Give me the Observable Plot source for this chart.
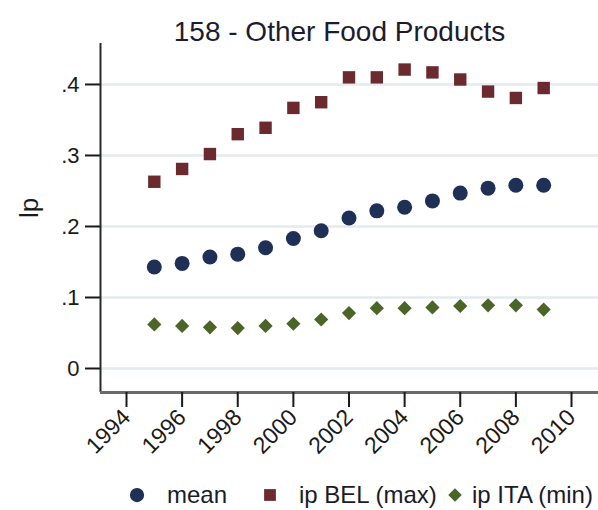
<!DOCTYPE html>
<html><head><meta charset="utf-8">
<script src="https://cdn.jsdelivr.net/npm/d3@7"></script>
<script src="https://cdn.jsdelivr.net/npm/@observablehq/plot@0.6"></script>
<style>
body{margin:0;background:#fff;font-family:"Liberation Sans",Arial,sans-serif;}
#chart{position:relative;width:598px;height:510px;overflow:hidden;background:#fff;}
#chart svg.plot{position:absolute;left:0;top:0;}
.item{position:absolute;top:475px;height:40px;line-height:40px;font-size:24px;color:#1a1a2a;white-space:nowrap;}
.sw{position:absolute;}
</style></head><body><div id="chart"></div>
<script>
const title = "158 - Other Food Products";
const yLabel = "lp";
const years = [1995,1996,1997,1998,1999,2000,2001,2002,2003,2004,2005,2006,2007,2008,2009];
const meanValues = [0.143,0.148,0.157,0.161,0.170,0.183,0.194,0.212,0.222,0.227,0.236,0.247,0.254,0.258,0.258];
const belValues  = [0.263,0.281,0.302,0.330,0.339,0.367,0.375,0.410,0.410,0.421,0.417,0.407,0.390,0.381,0.395];
const itaValues  = [0.062,0.060,0.058,0.057,0.060,0.063,0.069,0.078,0.085,0.085,0.086,0.088,0.089,0.089,0.083];
const seriesNames = ["mean","ip BEL (max)","ip ITA (min)"];
const seriesColors = ["#1f3057","#6b2a2e","#4b6428"];
const seriesSymbols = ["circle","square","diamond2"];
const xTicks = [1994,1996,1998,2000,2002,2004,2006,2008,2010];
const yTicks = [0,0.1,0.2,0.3,0.4];

const xDomain = [1993.065, 2010.971];
const yDomain = [-0.0338, 0.4577];
const seriesValues = [meanValues, belValues, itaValues];
const markerR = [7.5, 7, 6.4];

const rows = seriesNames.flatMap((s, i) => years.map((yr, j) => ({series: s, year: yr, value: seriesValues[i][j]})));
const yFmt = d => d === 0 ? "0" : d3.format(".1f")(d).replace(/^0/, "");

const plot = Plot.plot({
  width: 598, height: 470,
  marginLeft: 100, marginRight: 0, marginTop: 43, marginBottom: 78,
  style: {fontFamily: "'Liberation Sans', Arial, sans-serif", background: "transparent", color: "#1a1a1a", overflow: "visible"},
  x: {domain: xDomain},
  y: {domain: yDomain},
  marks: [
    Plot.gridY(yTicks, {stroke: "#e3ebee", strokeWidth: 2.5, strokeOpacity: 1}),
    Plot.ruleX([xDomain[0]], {stroke: "#2a2a2a", strokeWidth: 2}),
    Plot.ruleY([yDomain[0]], {stroke: "#6a6a6a", strokeWidth: 3}),
    Plot.axisY(yTicks, {tickSize: 15, tickPadding: 6, fontSize: 22, tickFormat: yFmt, label: null, stroke: "#1a1a1a", strokeWidth: 2, fill: "#1a1a1a"}),
    Plot.axisX(xTicks, {tickSize: 15, tickPadding: 6, tickRotate: -45, fontSize: 23, tickFormat: d3.format("d"), label: null, stroke: "#1a1a1a", strokeWidth: 2, fill: "#1a1a1a"}),
    ...seriesNames.map((s, i) => Plot.dot(rows.filter(d => d.series === s), {
      x: "year", y: "value", symbol: () => seriesSymbols[i], fill: seriesColors[i], r: markerR[i], stroke: "none"
    })),
    Plot.text([yLabel], {frameAnchor: "left", dx: -71, rotate: -90, fontSize: 26, fill: "#1a1a1a"}),
    Plot.text([title], {frameAnchor: "top", dx: -10, dy: -22, fontSize: 28, fill: "#1c1c2e"})
  ]
});
const chart = document.getElementById("chart");
chart.appendChild(plot);

// legend
const swX = [137, 270, 455];
const txtX = [167, 299, 472];
seriesNames.forEach((s, i) => {
  const sz = 20;
  const svg = d3.create("svg").attr("class", "sw").attr("width", sz).attr("height", sz)
    .style("left", (swX[i] - sz / 2) + "px").style("top", (495 - sz / 2) + "px");
  const sym = {circle: d3.symbolCircle, square: d3.symbolSquare, diamond2: d3.symbolDiamond2}[seriesSymbols[i]];
  svg.append("path").attr("transform", `translate(${sz/2},${sz/2})`)
    .attr("d", d3.symbol(sym, Math.PI * (markerR[i] * 0.95) ** 2)()).attr("fill", seriesColors[i]);
  chart.appendChild(svg.node());
  const span = document.createElement("div");
  span.className = "item";
  span.style.left = txtX[i] + "px";
  span.textContent = s;
  chart.appendChild(span);
});
</script></body></html>
